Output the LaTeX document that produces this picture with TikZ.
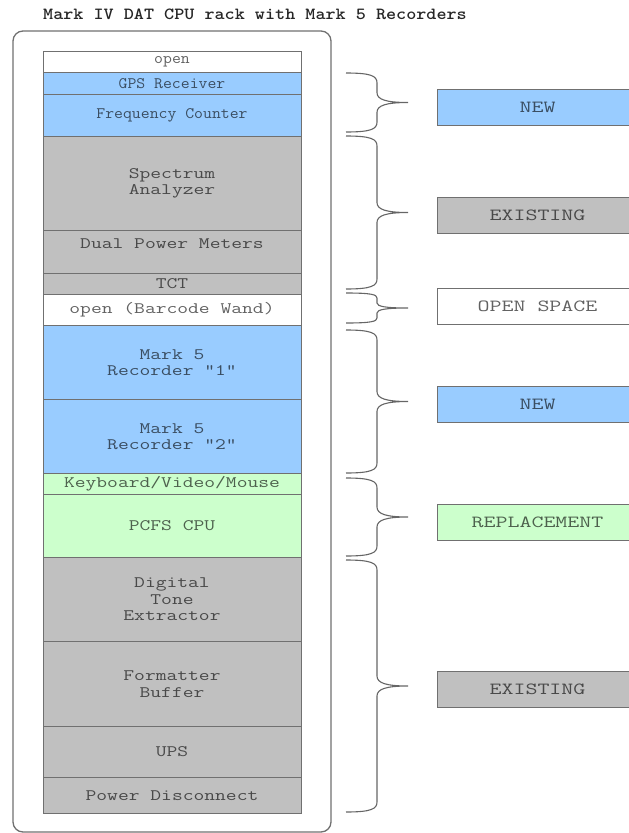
\documentclass[tikz,border=0pt]{standalone}
\usepackage{fontspec}
\newfontfamily\slotsmall{Latin Modern Mono}[FakeStretch=1.08]
\newfontfamily\slotwide{Latin Modern Mono}[FakeStretch=1.31]
\newfontfamily\legendfnt{Latin Modern Mono}[FakeStretch=1.37]

\definecolor{newblue}{HTML}{99CCFF}
\definecolor{oldgrey}{HTML}{C0C0C0}
\definecolor{replgreen}{HTML}{CCFFCC}
\definecolor{rackline}{HTML}{707070}

% brace from the rack to a legend box: name of tip, top, bottom
\newcommand\rackbrace[3]{%
  \pgfmathsetmacro\bmid{(#2+#3)/2}
  \pgfmathsetmacro\brad{min(10,(#3-#2)/6)}
  \coordinate (#1) at (408,\bmid);
  \draw[bracepath] (346,#2) .. controls (371,#2) and (377,#2+0.3*\brad) .. (377,#2+\brad)
    -- (377,\bmid-\brad) .. controls (377,\bmid-0.3*\brad) and (386,\bmid) .. (#1)
    .. controls (386,\bmid) and (377,\bmid+0.3*\brad) .. (377,\bmid+\brad)
    -- (377,#3-\brad) .. controls (377,#3-0.3*\brad) and (371,#3) .. (346,#3);
}

\begin{document}
\begin{tikzpicture}[x=1pt,y=-1pt,
    slot/.style={draw=rackline,line width=1pt,anchor=north,minimum width=258pt,
      inner sep=0pt,align=center,text=black,text opacity=0.62,
      font=\slotwide\fontsize{16}{16.5}\selectfont},
    topslot/.style={slot,font=\slotsmall\fontsize{16}{16.5}\selectfont},
    legend/.style={draw=rackline,line width=1pt,anchor=west,minimum width=200pt,
      minimum height=36pt,inner sep=0pt,text=black,text opacity=0.62,
      font=\legendfnt\fontsize{17}{18}\selectfont},
    bracepath/.style={draw=black!60,line width=1.1pt}]
    \useasboundingbox (0,0) rectangle (629,833);
    \clip (0,0) rectangle (629,833);

    \node[text=black!85,font=\ttfamily\bfseries\fontsize{17}{18}\selectfont] (title) at (255,14)
        {\scalebox{1.13}[1]{Mark IV DAT CPU rack with Mark 5 Recorders}};

    % the rack
    \draw[rackline,line width=1.3pt,rounded corners=10pt] (13,31) rectangle (331,832);

    \node[topslot,fill=white,minimum height=21pt] (open) at (172,51) {open};
    \node[topslot,fill=newblue,minimum height=22pt] (gps) at (172,72) {GPS Receiver};
    \node[topslot,fill=newblue,minimum height=42pt] (freq) at (172,94) {Frequency Counter};
    \node[slot,fill=oldgrey,minimum height=94pt] (spec) at (172,136) {Spectrum\\Analyzer};
    \node[slot,fill=oldgrey,minimum height=43pt] (power) at (172,230) {Dual Power Meters\\\mbox{}};
    \node[slot,fill=oldgrey,minimum height=21pt] (tct) at (172,273) {TCT};
    \node[slot,fill=white,minimum height=31pt] (wand) at (172,294) {open (Barcode Wand)};
    \node[slot,fill=newblue,minimum height=74pt] (rec1) at (172,325) {Mark 5\\Recorder "1"};
    \node[slot,fill=newblue,minimum height=74pt] (rec2) at (172,399) {Mark 5\\Recorder "2"};
    \node[slot,fill=replgreen,minimum height=21pt] (kvm) at (172,473) {Keyboard/Video/Mouse};
    \node[slot,fill=replgreen,minimum height=63pt] (pcfs) at (172,494) {PCFS CPU};
    \node[slot,fill=oldgrey,minimum height=84pt] (dte) at (172,557) {Digital\\Tone\\Extractor};
    \node[slot,fill=oldgrey,minimum height=85pt] (fmt) at (172,641) {Formatter\\Buffer};
    \node[slot,fill=oldgrey,minimum height=51pt] (ups) at (172,726) {UPS};
    \node[slot,fill=oldgrey,minimum height=36pt] (disc) at (172,777) {Power Disconnect};

    % braces
    \rackbrace{bnew1}{73}{132}
    \rackbrace{bexist1}{136}{289}
    \rackbrace{bopen}{293}{323}
    \rackbrace{bnew2}{330}{473}
    \rackbrace{brepl}{478}{556}
    \rackbrace{bexist2}{560}{812}

    % legend
    \node[legend,fill=newblue] (lnew1) at (437,107.5) {NEW};
    \node[legend,fill=oldgrey] (lexist1) at (437,215) {EXISTING};
    \node[legend,fill=white] (lopen) at (437,306.5) {OPEN SPACE};
    \node[legend,fill=newblue] (lnew2) at (437,404) {NEW};
    \node[legend,fill=replgreen] (lrepl) at (437,522.5) {REPLACEMENT};
    \node[legend,fill=oldgrey] (lexist2) at (437,689) {EXISTING};
\end{tikzpicture}
\end{document}
